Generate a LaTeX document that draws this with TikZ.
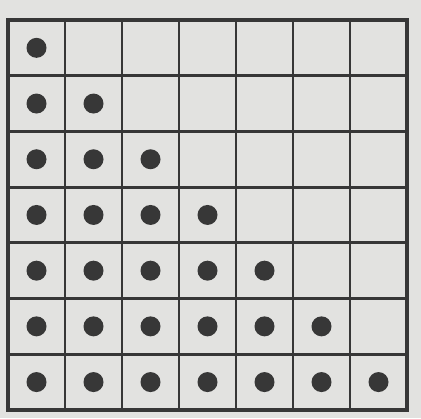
\documentclass[tikz,border=0pt]{standalone}
\usepackage{tikz}
\definecolor{paper}{RGB}{226,226,224}
\definecolor{ink}{RGB}{55,55,55}
\begin{document}
\begin{tikzpicture}[x=0.02cm, y=-0.02cm,
  dot/.style={fill=ink, draw=none},
  gridline/.style={draw=ink, line width=1.6pt},
  border/.style={draw=ink, line width=2.8pt}]
 \fill[paper] (0,0) rectangle (421,418);
 \useasboundingbox (0,0) rectangle (421,418);
 % inner lines
 \foreach \i in {1,...,6} {
   \draw[gridline] ({8+57*\i},20) -- ({8+57*\i},410);
   \draw[gridline] (8,{20+55.7*\i}) -- (407,{20+55.7*\i});
 }
 \draw[border] (8,20) rectangle (407,410);
 % dots, lower triangle
 \foreach \r in {1,...,7}
   \foreach \c in {1,...,\r}
     \fill[dot] ({8+57*(\c-0.5)},{20+55.7*(\r-0.5)}) circle (10);
\end{tikzpicture}
\end{document}
